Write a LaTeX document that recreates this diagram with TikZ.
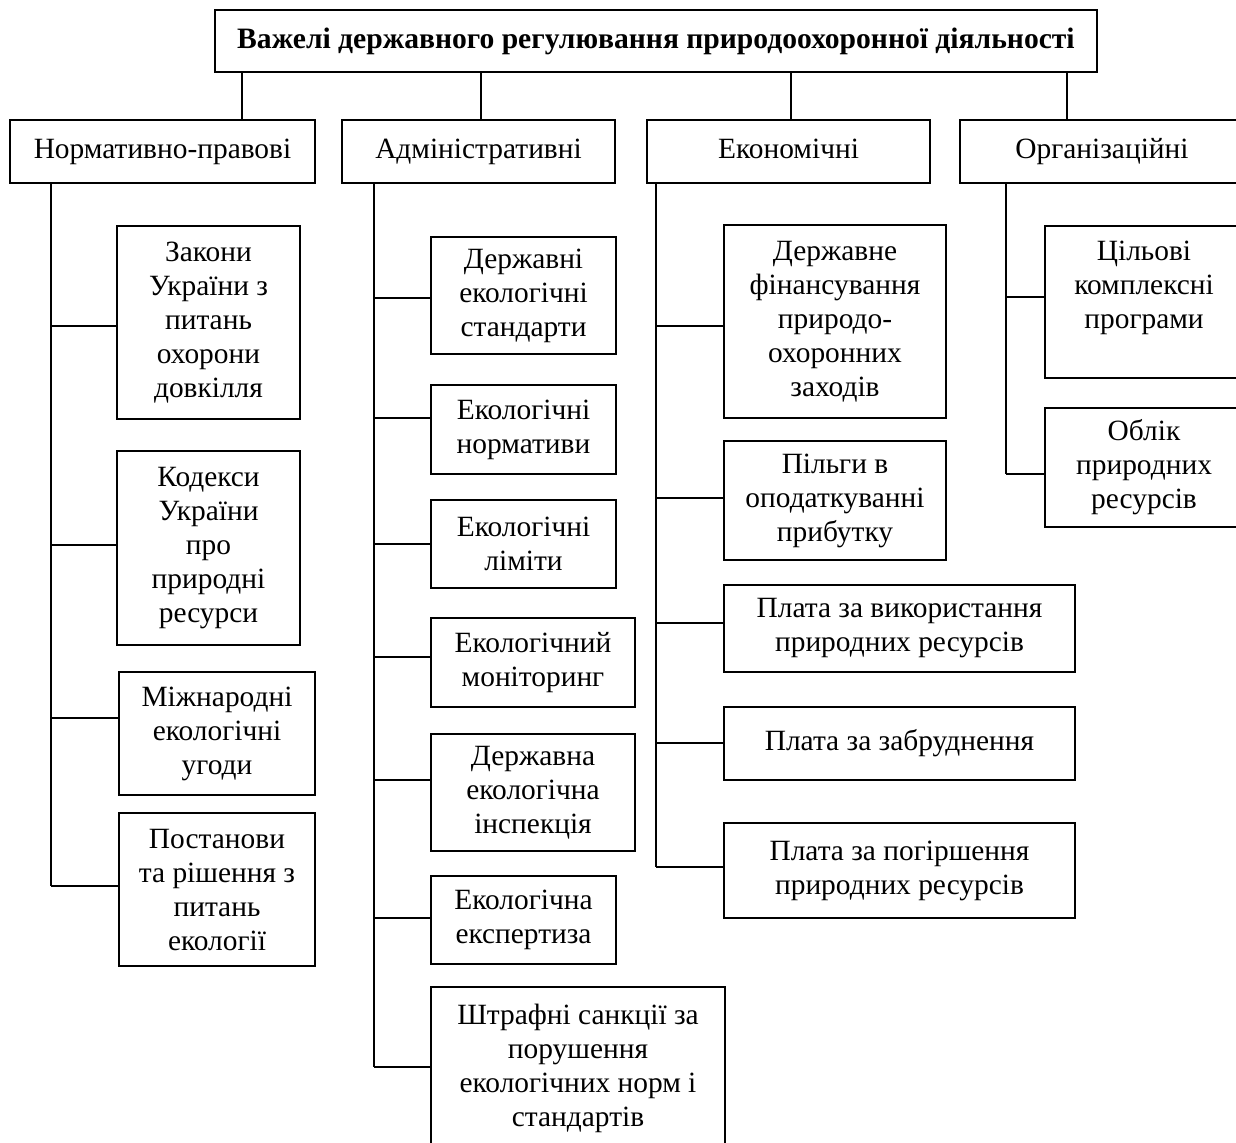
\documentclass[tikz,border=0pt]{standalone}
\usepackage{fontspec}
\setmainfont{Liberation Serif}
\begin{document}
\begin{tikzpicture}[x=0.5pt,y=-0.5pt,
  bx/.style={draw=black, line width=1pt, align=center, inner sep=0pt, font=\fontsize{14.7pt}{17pt}\selectfont},
  hd/.style={text height=10pt, text depth=3pt},
  wh/.style 2 args={minimum width=#1*0.5pt, minimum height=#2*0.5pt},
  ln/.style={draw=black, line width=1pt}]
\useasboundingbox (0,0) rectangle (1236,1142);
\clip (0,0) rectangle (1236,1142);
% title
\node[bx, hd, wh={882}{62}, font=\fontsize{14.8pt}{17pt}\selectfont\bfseries] (title) at (656,41) {Важелі державного регулювання природоохоронної діяльності};
% level 2
\node[bx, hd, wh={305}{63}] (n1) at (162.5,151.5) {Нормативно-правові};
\node[bx, hd, wh={273}{63}] (n2) at (478.5,151.5) {Адміністративні};
\node[bx, hd, wh={283}{63}] (n3) at (788.5,151.5) {Економічні};
\node[bx, hd, wh={284}{63}] (n4) at (1102,151.5) {Організаційні};
\coordinate (t1) at (242,0);
\coordinate (t2) at (481,0);
\coordinate (t3) at (791,0);
\coordinate (t4) at (1067,0);
\draw[ln] (title.south -| t1) -- (n1.north -| t1);
\draw[ln] (title.south -| t2) -- (n2.north -| t2);
\draw[ln] (title.south -| t3) -- (n3.north -| t3);
\draw[ln] (title.south -| t4) -- (n4.north -| t4);
% column 1
\node[bx, wh={183}{193}] (a1) at (208.5,322.5) {Закони\\України з\\питань\\охорони\\довкілля};
\node[bx, wh={183}{194}] (a2) at (208.5,548) {Кодекси\\України\\про\\природні\\ресурси};
\node[bx, wh={196}{123}] (a3) at (217,733.5) {Міжнародні\\екологічні\\угоди};
\node[bx, wh={196}{153}] (a4) at (217,889.5) {Постанови\\та рішення з\\питань\\екології};
\coordinate (ja1) at (51,326);
\coordinate (ja2) at (51,545);
\coordinate (ja3) at (51,718);
\coordinate (ja4) at (51,886);
\draw[ln] (n1.south -| ja1) -- (ja4);
\draw[ln] (ja1) -- (ja1 -| a1.west);
\draw[ln] (ja2) -- (ja2 -| a2.west);
\draw[ln] (ja3) -- (ja3 -| a3.west);
\draw[ln] (ja4) -- (ja4 -| a4.west);
% column 2
\node[bx, wh={185}{117}] (c1) at (523.5,295.5) {Державні\\екологічні\\стандарти};
\node[bx, wh={185}{89}] (c2) at (523.5,429.5) {Екологічні\\нормативи};
\node[bx, wh={185}{88}] (c3) at (523.5,544) {Екологічні\\ліміти};
\node[bx, wh={204}{89}] (c4) at (533,662.5) {Екологічний\\моніторинг};
\node[bx, wh={204}{117}] (c5) at (533,792.5) {Державна\\екологічна\\інспекція};
\node[bx, wh={185}{88}] (c6) at (523.5,920) {Екологічна\\експертиза};
\node[bx, wh={294}{163}] (c7) at (578,1068.5) {Штрафні санкції за\\порушення\\екологічних норм і\\стандартів};
\coordinate (jc1) at (374,298);
\coordinate (jc2) at (374,418);
\coordinate (jc3) at (374,544);
\coordinate (jc4) at (374,657);
\coordinate (jc5) at (374,780);
\coordinate (jc6) at (374,918);
\coordinate (jc7) at (374,1067);
\draw[ln] (n2.south -| jc1) -- (jc7);
\foreach \i in {1,...,7} {\draw[ln] (jc\i) -- (jc\i -| c\i.west);}
% column 3
\node[bx, wh={222}{193}] (d1) at (835,321.5) {Державне\\фінансування\\природо-\\охоронних\\заходів};
\node[bx, wh={222}{119}] (d2) at (835,500.5) {Пільги в\\оподаткуванні\\прибутку};
\node[bx, wh={351}{87}] (d3) at (899.5,628.5) {Плата за використання\\природних ресурсів};
\node[bx, wh={351}{73}] (d4) at (899.5,743.5) {Плата за забруднення};
\node[bx, wh={351}{95}] (d5) at (899.5,870.5) {Плата за погіршення\\природних ресурсів};
\coordinate (jd1) at (656,326);
\coordinate (jd2) at (656,498);
\coordinate (jd3) at (656,623);
\coordinate (jd4) at (656,743);
\coordinate (jd5) at (656,867);
\draw[ln] (n3.south -| jd1) -- (jd5);
\foreach \i in {1,...,5} {\draw[ln] (jd\i) -- (jd\i -| d\i.west);}
% column 4
\node[bx, wh={198}{152}, text depth=17pt] (e1) at (1144,302) {Цільові\\комплексні\\програми};
\node[bx, wh={198}{119}] (e2) at (1144,467.5) {Облік\\природних\\ресурсів};
\coordinate (je1) at (1006,297);
\coordinate (je2) at (1006,474);
\draw[ln] (n4.south -| je1) -- (je2);
\foreach \i in {1,2} {\draw[ln] (je\i) -- (je\i -| e\i.west);}
\end{tikzpicture}
\end{document}
